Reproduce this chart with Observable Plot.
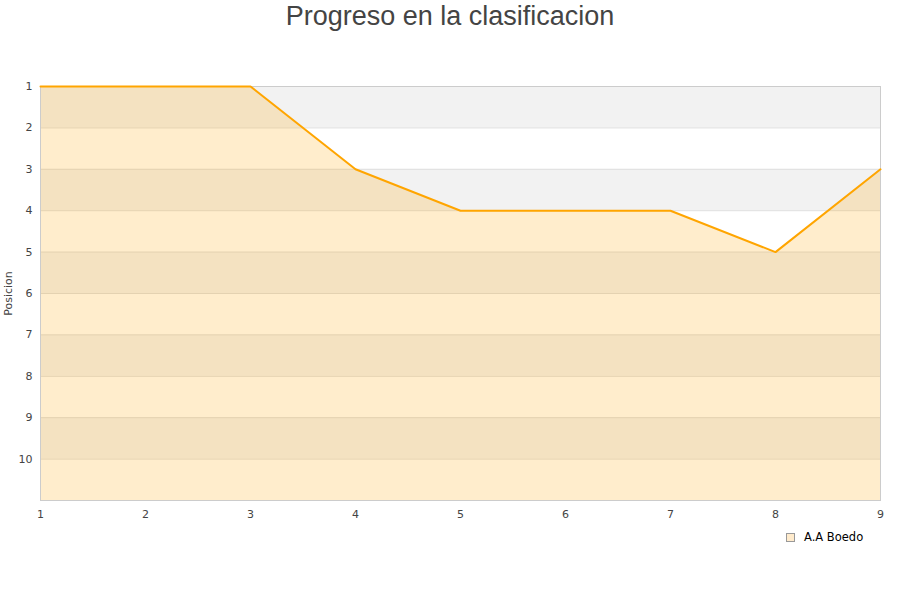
<!DOCTYPE html>
<html><head><meta charset="utf-8">
<script src="https://cdn.jsdelivr.net/npm/d3@7"></script>
<script src="https://cdn.jsdelivr.net/npm/@observablehq/plot@0.6"></script>
<style>
body{margin:0;background:#fff;font-family:"DejaVu Sans",sans-serif;}
#wrap{position:relative;width:900px;height:600px;}
#title{position:absolute;left:0;top:0;width:900px;text-align:center;font-size:27px;color:#444;font-family:"Liberation Sans",Arial,sans-serif;line-height:32px;}
#legend{position:absolute;left:786px;top:530px;font-size:11.5px;color:#000;display:flex;align-items:center;}
#legend span.sw{display:inline-block;width:7px;height:7px;border:1px solid #999;background:#ffebcc;margin-right:9px;}
</style></head>
<body><div id="wrap"><div id="title">Progreso en la clasificacion</div><div id="chart"></div><div id="legend"><span class="sw"></span>A.A Boedo</div></div>
<script>
const jornadas = [1,2,3,4,5,6,7,8,9];
const posiciones = [1,1,1,3,4,4,4,5,3];
const yTicks = [1,2,3,4,5,6,7,8,9,10];
const teamName = "A.A Boedo";

const data = jornadas.map((j,i)=>({j, p: posiciones[i]}));
const bands = yTicks.filter(t => t % 2 === 1).map(t => ({y1: t, y2: t + 1}));
const grid = yTicks.slice(1);

const chart = Plot.plot({
  width: 900, height: 600,
  marginTop: 86, marginBottom: 100, marginLeft: 40, marginRight: 20,
  style: {fontFamily: "DejaVu Sans, sans-serif", fontSize: "11px", color: "#444", background: "transparent"},
  x: {domain: [1, 9], ticks: jornadas, tickFormat: d => String(d), tickSize: 0, tickPadding: 10, label: null},
  y: {domain: [1, 11], reverse: true, ticks: yTicks, tickFormat: d => String(d), tickSize: 0, tickPadding: 8, label: "Posicion", labelAnchor: "center", labelArrow: "none", labelOffset: 36},
  marks: [
    Plot.rect(bands, {x1: 1, x2: 9, y1: "y1", y2: "y2", fill: "#f2f2f2"}),
    Plot.ruleY(grid, {stroke: "#dedede", strokeWidth: 1}),
    Plot.areaY(data, {x: "j", y1: 11, y2: "p", fill: "#ffa500", fillOpacity: 0.2}),
    Plot.frame({stroke: "#cccccc"}),
    Plot.lineY(data, {x: "j", y: "p", stroke: "#ffa500", strokeWidth: 2})
  ]
});
document.getElementById("chart").appendChild(chart);
</script>
</body></html>
